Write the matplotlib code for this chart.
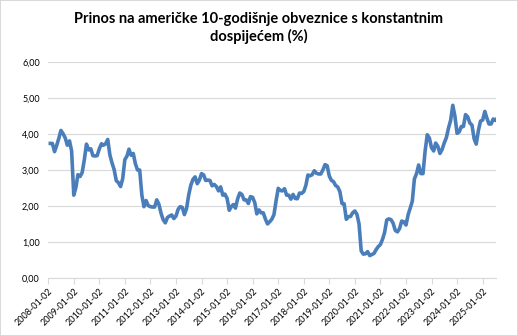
import matplotlib.pyplot as plt
import matplotlib.dates as mdates
import pandas as pd

# monthly 10y constant maturity yield (%), Jan 2008 .. Jul 2025
y2008 = [3.74, 3.74, 3.51, 3.68, 3.88, 4.10, 4.01, 3.89, 3.69, 3.81, 3.53, 2.30]
y2009 = [2.52, 2.87, 2.82, 2.93, 3.29, 3.72, 3.56, 3.59, 3.40, 3.39, 3.40, 3.59]
y2010 = [3.73, 3.69, 3.73, 3.85, 3.42, 3.20, 3.01, 2.70, 2.65, 2.54, 2.76, 3.29]
y2011 = [3.39, 3.58, 3.41, 3.46, 3.17, 3.00, 3.00, 2.30, 1.98, 2.15, 2.01, 1.98]
y2012 = [1.97, 1.97, 2.17, 2.05, 1.80, 1.62, 1.53, 1.68, 1.72, 1.75, 1.65, 1.72]
y2013 = [1.91, 1.98, 1.96, 1.76, 1.93, 2.30, 2.58, 2.74, 2.81, 2.62, 2.72, 2.90]
y2014 = [2.86, 2.71, 2.72, 2.71, 2.56, 2.60, 2.54, 2.42, 2.53, 2.30, 2.33, 2.21]
y2015 = [1.88, 1.98, 2.04, 1.94, 2.20, 2.36, 2.32, 2.17, 2.17, 2.07, 2.26, 2.24]
y2016 = [2.09, 1.78, 1.89, 1.81, 1.81, 1.64, 1.50, 1.56, 1.63, 1.76, 2.14, 2.49]
y2017 = [2.43, 2.42, 2.48, 2.30, 2.30, 2.19, 2.32, 2.21, 2.20, 2.36, 2.35, 2.40]
y2018 = [2.58, 2.86, 2.84, 2.87, 2.98, 2.91, 2.89, 2.89, 3.00, 3.15, 3.12, 2.83]
y2019 = [2.71, 2.68, 2.57, 2.53, 2.40, 2.07, 2.06, 1.63, 1.70, 1.71, 1.81, 1.86]
y2020 = [1.76, 1.50, 0.75, 0.66, 0.67, 0.73, 0.62, 0.65, 0.68, 0.79, 0.87, 0.93]
y2021 = [1.08, 1.26, 1.61, 1.64, 1.62, 1.52, 1.32, 1.28, 1.37, 1.58, 1.56, 1.47]
y2022 = [1.76, 1.93, 2.13, 2.75, 2.90, 3.14, 2.90, 2.90, 3.52, 3.98, 3.89, 3.62]
y2023 = [3.53, 3.75, 3.66, 3.46, 3.57, 3.75, 3.90, 4.17, 4.38, 4.80, 4.50, 4.02]
y2024 = [4.06, 4.21, 4.21, 4.54, 4.48, 4.31, 4.25, 3.87, 3.72, 4.10, 4.36, 4.39]
y2025 = [4.63, 4.45, 4.28, 4.28, 4.42, 4.38, 4.45]

yields = (y2008 + y2009 + y2010 + y2011 + y2012 + y2013 + y2014 + y2015 + y2016
          + y2017 + y2018 + y2019 + y2020 + y2021 + y2022 + y2023 + y2024 + y2025)
dates = pd.date_range("2008-01-02", periods=len(yields), freq="MS") + pd.Timedelta(days=1)
tick_dates = pd.to_datetime([f"{y}-01-02" for y in range(2008, 2026)])

plt.rcParams['font.family'] = ['Lato', 'DejaVu Sans']

fig = plt.figure(figsize=(5.18, 3.36), dpi=100, edgecolor='#d9d9d9', linewidth=1.2)
ax = fig.add_axes([0.093, 0.173, 0.865, 0.642])

ax.plot(dates, yields, color='#4a7ebb', lw=2.6, solid_joinstyle='round')

ax.set_ylim(0, 6)
ax.set_yticks([0, 1, 2, 3, 4, 5, 6])
ax.set_yticklabels([f"{v},00" for v in range(7)], fontsize=6.5)
ax.set_xlim(dates[0], pd.Timestamp("2025-07-15"))
ax.set_xticks(tick_dates)
ax.xaxis.set_major_formatter(mdates.DateFormatter("%Y-%m-%d"))
plt.setp(ax.get_xticklabels(), rotation=45, ha='right', rotation_mode='anchor', fontsize=6.5)

ax.grid(axis='y', color='#d9d9d9', lw=0.8)
ax.set_axisbelow(True)
for s in ['top', 'right', 'left']:
    ax.spines[s].set_visible(False)
ax.spines['bottom'].set_color('#d9d9d9')
ax.tick_params(axis='y', length=0, pad=6)
ax.tick_params(axis='x', length=4, color='#d9d9d9', pad=2)

fig.suptitle("Prinos na američke 10-godišnje obveznice s konstantnim\ndospijećem (%)",
             fontsize=10.5, fontweight='bold', y=0.965, linespacing=1.3)

fig.savefig("out.png", dpi=100, edgecolor=fig.get_edgecolor())
